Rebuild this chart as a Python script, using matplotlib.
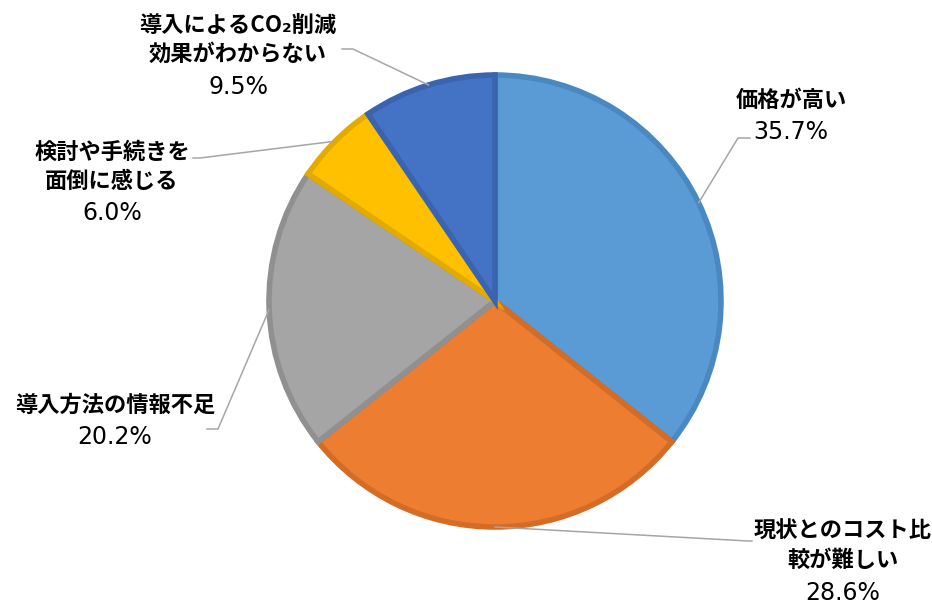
import numpy as np
import matplotlib
matplotlib.use('Agg')
import matplotlib.pyplot as plt

plt.rcParams['font.family'] = ['Noto Sans CJK JP', 'DejaVu Sans']

labels = [['価格が高い'], ['現状とのコスト比', '較が難しい'], ['導入方法の情報不足'],
          ['検討や手続きを', '面倒に感じる'], ['導入によるCO₂削減', '効果がわからない']]
values = [35.7, 28.6, 20.2, 6.0, 9.5]
colors = ['#5B9BD5', '#ED7D31', '#A5A5A5', '#FFC000', '#4472C4']
edges = ['#4A88C2', '#D56C26', '#909090', '#E3AA00', '#3A64B0']

# pixel positions (from top-left): centre of first text line, elbow, end of leader
text_pos = [(791, 100), (843, 531), (115, 405), (112, 152), (238, 25)]
elbow = [(738, 138), (748, 541), (218, 429), (200, 158), (353, 49)]
line_end = [(750, 138), (752, 541), (207, 429), (193, 158), (342, 49)]
step = 29.5

W, H = 932, 604
fig = plt.figure(figsize=(W / 100, H / 100), dpi=100)
ax = fig.add_axes([0, 0, 1, 1])

cx, cy, r = 495, 301, 226
wedges, _ = ax.pie(values, colors=colors, startangle=90, counterclock=False,
                   center=(cx, H - cy), radius=r, frame=True,
                   wedgeprops=dict(linewidth=4))
for w, ec in zip(wedges, edges):
    w.set_edgecolor(ec)
ax.set_xlim(0, W)
ax.set_ylim(0, H)
ax.set_aspect('equal')
ax.axis('off')

for i, w in enumerate(wedges):
    mid = np.deg2rad((w.theta1 + w.theta2) / 2)
    sx = cx + r * np.cos(mid)
    sy = (H - cy) + r * np.sin(mid)
    ex, ey = elbow[i]
    lx, ly = line_end[i]
    ax.plot([sx, ex, lx], [sy, H - ey, H - ly], color='#A6A6A6', lw=1.1)
    tx, ty = text_pos[i]
    for k, line in enumerate(labels[i]):
        ax.text(tx, H - (ty + k * step), line, ha='center', va='center',
                fontsize=16, fontweight='bold', color='#000000')
    k = len(labels[i])
    ax.text(tx, H - (ty + k * step), f'{values[i]:.1f}%', ha='center', va='center_baseline',
            fontsize=17, family='DejaVu Sans', color='#000000')

fig.savefig('out.png', dpi=100)
